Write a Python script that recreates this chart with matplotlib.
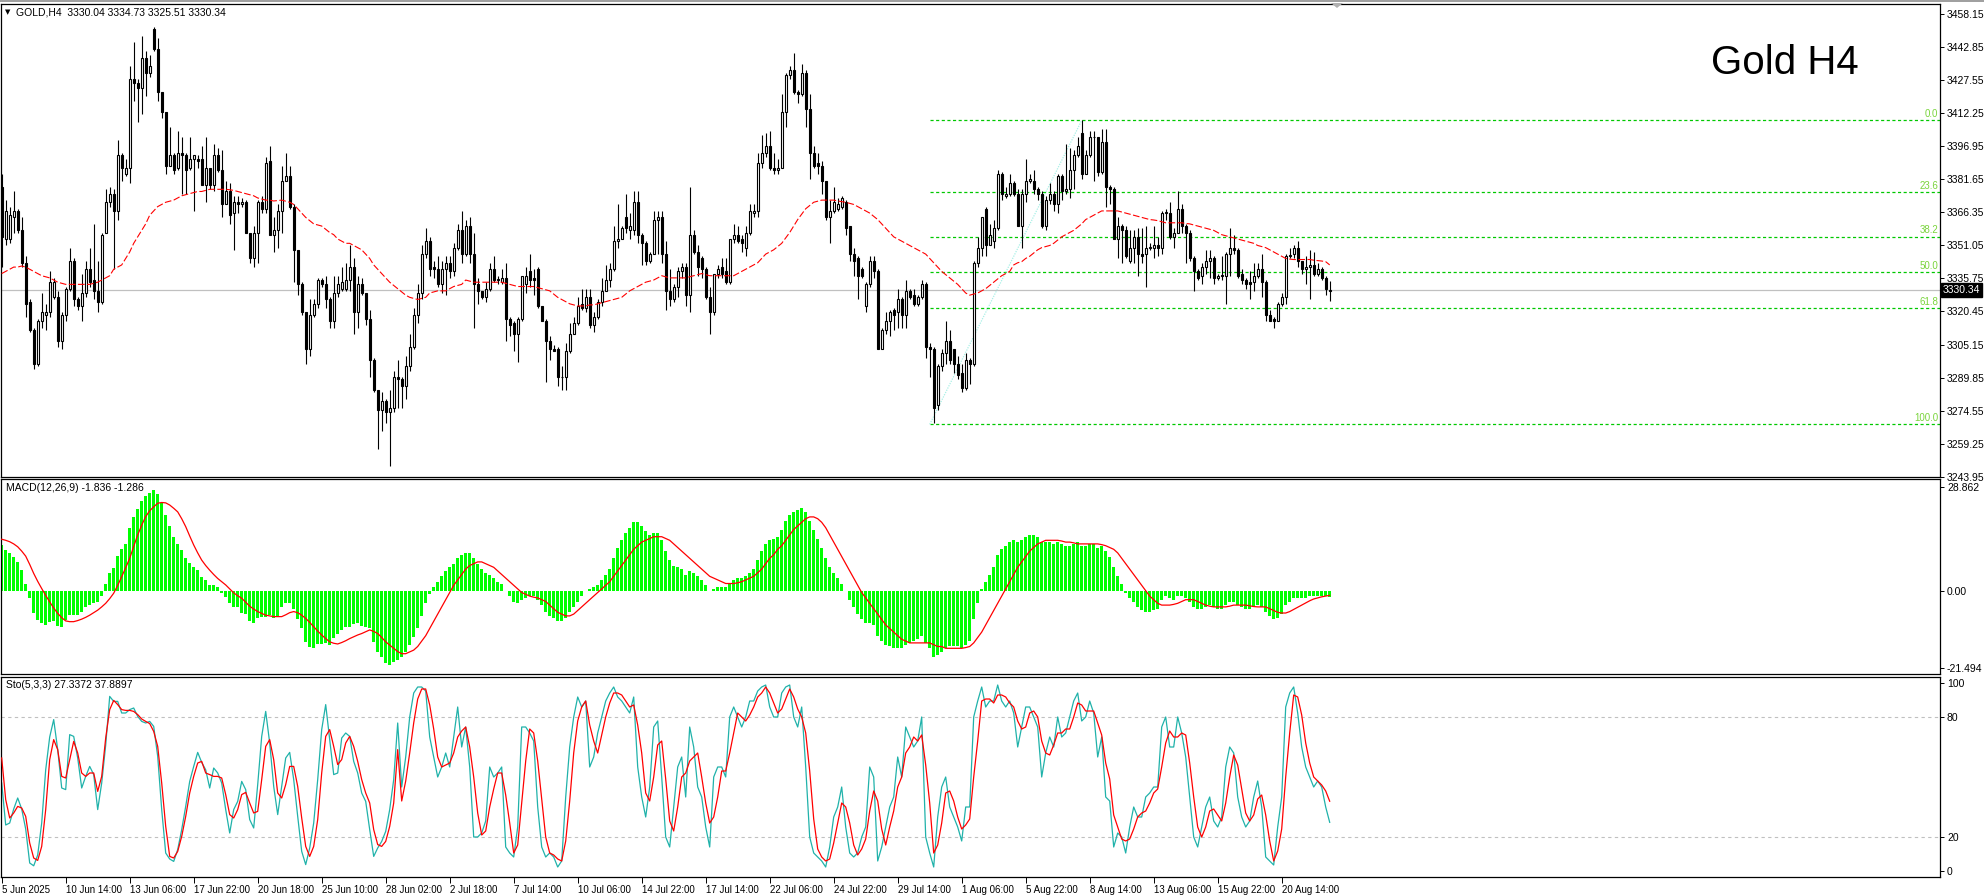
import matplotlib
matplotlib.use('Agg')
import matplotlib.pyplot as plt
import matplotlib.transforms as mtransforms
from matplotlib.patches import Polygon, Rectangle
import numpy as np

plt.rcParams['font.family'] = ['Liberation Sans', 'DejaVu Sans']

# ---- data (GOLD, H4) ----
opens = [
    3378, 3354, 3354, 3364, 3367, 3358, 3343, 3325, 3312, 3296,
    3316, 3319, 3320, 3327, 3327, 3307, 3319, 3331, 3344, 3326,
    3323, 3329, 3340, 3335, 3330, 3325, 3357, 3371, 3375, 3367,
    3393, 3384, 3387, 3428, 3426, 3424, 3438, 3431, 3451, 3442,
    3422, 3413, 3388, 3393, 3387, 3394, 3393, 3387, 3391, 3391,
    3391, 3379, 3387, 3379, 3393, 3386, 3370, 3376, 3366, 3371,
    3370, 3371, 3357, 3345, 3357, 3371, 3368, 3390, 3356, 3358,
    3367, 3381, 3383, 3369, 3349, 3333, 3320, 3303, 3319, 3324,
    3335, 3333, 3326, 3316, 3329, 3331, 3331, 3335, 3341, 3320,
    3333, 3329, 3317, 3298, 3284, 3275, 3279, 3274, 3276, 3290,
    3289, 3286, 3295, 3304, 3319, 3329, 3347, 3353, 3341, 3340,
    3333, 3340, 3343, 3339, 3350, 3358, 3347, 3360, 3347, 3333,
    3330, 3327, 3331, 3340, 3335, 3334, 3336, 3317, 3315, 3310,
    3317, 3333, 3339, 3336, 3340, 3323, 3316, 3307, 3303, 3303,
    3290, 3290, 3302, 3310, 3315, 3324, 3322, 3327, 3314, 3318,
    3325, 3330, 3335, 3340, 3353, 3354, 3364, 3358, 3358, 3371,
    3356, 3352, 3344, 3347, 3363, 3364, 3347, 3330, 3326, 3332,
    3339, 3341, 3328, 3356, 3348, 3345, 3340, 3327, 3320, 3338,
    3341, 3339, 3334, 3354, 3356, 3354, 3350, 3357, 3366, 3367,
    3389, 3394, 3397, 3387, 3386, 3387, 3413, 3430, 3432, 3422,
    3421, 3431, 3414, 3394, 3389, 3388, 3381, 3364, 3367, 3368,
    3369, 3371, 3360, 3347, 3345, 3340, 3323, 3333, 3344, 3339,
    3303, 3312, 3316, 3321, 3320, 3326, 3319, 3330, 3328, 3324,
    3327, 3333, 3304, 3303, 3277, 3295, 3301, 3307, 3303, 3296,
    3292, 3285, 3298, 3296, 3343, 3350, 3368, 3351, 3353, 3359,
    3384, 3374, 3375, 3380, 3375, 3360, 3375, 3381, 3381, 3377,
    3375, 3360, 3372, 3375, 3370, 3383, 3376, 3377, 3386, 3393,
    3403, 3384, 3393, 3401, 3401, 3385, 3399, 3378, 3377, 3354,
    3360, 3358, 3344, 3350, 3355, 3347, 3347, 3350, 3350, 3351,
    3350, 3366, 3366, 3355, 3357, 3368, 3360, 3357, 3345, 3339,
    3337, 3341, 3344, 3345, 3336, 3337, 3337, 3347, 3350, 3349,
    3338, 3335, 3334, 3334, 3337, 3340, 3334, 3319, 3317, 3316,
    3324, 3327, 3346, 3347, 3350, 3344, 3340, 3341, 3342, 3338,
    3340, 3336, 3330.04]
highs = [
    3384, 3372, 3369, 3376, 3368, 3364, 3346, 3326, 3313, 3317,
    3329, 3324, 3339, 3336, 3330, 3320, 3332, 3350, 3345, 3327,
    3338, 3344, 3350, 3361, 3344, 3357, 3377, 3378, 3377, 3400,
    3394, 3391, 3434, 3445, 3428, 3448, 3441, 3439, 3452, 3447,
    3422, 3413, 3406, 3394, 3404, 3401, 3394, 3401, 3393, 3393,
    3397, 3401, 3387, 3398, 3396, 3395, 3381, 3380, 3374, 3374,
    3373, 3372, 3357, 3360, 3372, 3374, 3392, 3397, 3364, 3370,
    3388, 3394, 3388, 3370, 3349, 3334, 3320, 3326, 3326, 3336,
    3336, 3337, 3327, 3337, 3337, 3341, 3343, 3351, 3345, 3337,
    3336, 3329, 3321, 3299, 3284, 3283, 3280, 3284, 3293, 3298,
    3290, 3300, 3310, 3322, 3333, 3351, 3359, 3355, 3344, 3346,
    3344, 3346, 3346, 3352, 3361, 3367, 3363, 3364, 3357, 3336,
    3330, 3334, 3343, 3346, 3337, 3340, 3343, 3318, 3316, 3318,
    3337, 3341, 3347, 3340, 3341, 3323, 3317, 3309, 3305, 3304,
    3295, 3306, 3315, 3318, 3327, 3331, 3331, 3331, 3320, 3326,
    3336, 3342, 3343, 3360, 3370, 3360, 3375, 3366, 3376, 3376,
    3357, 3353, 3348, 3367, 3367, 3367, 3353, 3340, 3333, 3341,
    3343, 3343, 3378, 3358, 3351, 3346, 3341, 3332, 3338, 3342,
    3345, 3345, 3354, 3361, 3360, 3356, 3360, 3370, 3370, 3394,
    3402, 3403, 3404, 3394, 3391, 3421, 3431, 3434, 3440, 3423,
    3435, 3432, 3421, 3397, 3394, 3390, 3381, 3372, 3378, 3373,
    3374, 3372, 3360, 3350, 3346, 3341, 3334, 3346, 3346, 3340,
    3313, 3320, 3321, 3322, 3331, 3327, 3335, 3331, 3331, 3328,
    3335, 3334, 3306, 3304, 3296, 3303, 3316, 3312, 3303, 3300,
    3296, 3301, 3299, 3344, 3355, 3364, 3369, 3361, 3363, 3386,
    3385, 3378, 3384, 3381, 3377, 3377, 3391, 3384, 3386, 3378,
    3376, 3374, 3380, 3376, 3384, 3384, 3398, 3396, 3395, 3401,
    3409, 3395, 3404, 3404, 3401, 3405, 3405, 3379, 3378, 3364,
    3361, 3360, 3358, 3358, 3359, 3359, 3360, 3352, 3360, 3355,
    3367, 3368, 3371, 3359, 3376, 3370, 3361, 3358, 3346, 3340,
    3343, 3349, 3349, 3346, 3338, 3346, 3348, 3359, 3356, 3350,
    3340, 3336, 3339, 3343, 3343, 3347, 3335, 3321, 3318, 3325,
    3329, 3347, 3350, 3351, 3353, 3344, 3346, 3349, 3348, 3343,
    3341, 3337, 3334.73]
lows = [
    3341, 3351, 3352, 3357, 3357, 3341, 3318, 3311, 3294, 3295,
    3313, 3312, 3318, 3326, 3304, 3303, 3316, 3330, 3323, 3321,
    3316, 3327, 3332, 3326, 3320, 3324, 3357, 3369, 3340, 3363,
    3381, 3383, 3380, 3418, 3408, 3412, 3420, 3429, 3441, 3418,
    3410, 3384, 3388, 3384, 3386, 3375, 3375, 3386, 3367, 3387,
    3379, 3371, 3377, 3376, 3385, 3364, 3370, 3361, 3349, 3366,
    3369, 3357, 3343, 3341, 3343, 3366, 3366, 3356, 3348, 3350,
    3357, 3381, 3368, 3334, 3328, 3319, 3296, 3300, 3318, 3322,
    3332, 3322, 3313, 3313, 3327, 3330, 3330, 3330, 3310, 3313,
    3328, 3314, 3290, 3283, 3257, 3265, 3269, 3249, 3274, 3276,
    3276, 3280, 3293, 3303, 3315, 3326, 3345, 3337, 3336, 3332,
    3329, 3328, 3336, 3337, 3349, 3343, 3346, 3343, 3313, 3324,
    3326, 3325, 3330, 3334, 3333, 3333, 3307, 3309, 3302, 3297,
    3316, 3329, 3332, 3328, 3322, 3316, 3288, 3298, 3302, 3286,
    3284, 3284, 3301, 3310, 3314, 3321, 3320, 3313, 3311, 3317,
    3323, 3330, 3332, 3339, 3350, 3354, 3357, 3354, 3356, 3352,
    3342, 3342, 3343, 3347, 3347, 3343, 3321, 3323, 3325, 3327,
    3336, 3323, 3320, 3347, 3337, 3336, 3326, 3310, 3319, 3336,
    3336, 3333, 3333, 3352, 3352, 3348, 3346, 3356, 3364, 3364,
    3387, 3392, 3386, 3384, 3384, 3387, 3406, 3428, 3421, 3417,
    3420, 3406, 3382, 3387, 3384, 3375, 3363, 3352, 3366, 3367,
    3368, 3356, 3344, 3337, 3326, 3336, 3320, 3332, 3336, 3303,
    3303, 3310, 3309, 3312, 3313, 3313, 3313, 3326, 3323, 3323,
    3326, 3299, 3290, 3269, 3275, 3293, 3296, 3296, 3292, 3289,
    3283, 3284, 3287, 3295, 3341, 3346, 3346, 3351, 3350, 3358,
    3372, 3373, 3374, 3374, 3360, 3350, 3371, 3380, 3375, 3372,
    3359, 3358, 3370, 3367, 3366, 3372, 3375, 3373, 3377, 3392,
    3382, 3384, 3392, 3381, 3383, 3384, 3369, 3370, 3354, 3345,
    3343, 3345, 3343, 3343, 3337, 3343, 3332, 3349, 3345, 3346,
    3347, 3363, 3354, 3350, 3357, 3357, 3343, 3344, 3330, 3335,
    3333, 3338, 3336, 3333, 3335, 3335, 3324, 3337, 3347, 3336,
    3333, 3331, 3326, 3330, 3336, 3327, 3316, 3316, 3313, 3316,
    3323, 3324, 3345, 3345, 3341, 3338, 3333, 3326, 3337, 3337,
    3335, 3328, 3325.51]
closes = [
    3355, 3367, 3365, 3367, 3358, 3343, 3324, 3312, 3296, 3316,
    3320, 3320, 3334, 3334, 3307, 3319, 3331, 3344, 3326, 3323,
    3329, 3340, 3334, 3330, 3325, 3356, 3371, 3375, 3367, 3393,
    3387, 3387, 3428, 3426, 3424, 3438, 3431, 3434, 3442, 3422,
    3413, 3388, 3393, 3386, 3394, 3393, 3386, 3391, 3393, 3390,
    3379, 3387, 3379, 3393, 3386, 3370, 3376, 3365, 3371, 3370,
    3371, 3357, 3345, 3357, 3371, 3368, 3389, 3356, 3358, 3367,
    3381, 3383, 3369, 3349, 3333, 3320, 3303, 3319, 3324, 3335,
    3333, 3326, 3316, 3329, 3333, 3334, 3335, 3341, 3320, 3333,
    3329, 3317, 3298, 3284, 3275, 3279, 3274, 3276, 3290, 3289,
    3286, 3295, 3304, 3319, 3329, 3347, 3353, 3340, 3340, 3333,
    3340, 3343, 3339, 3350, 3358, 3347, 3360, 3347, 3333, 3330,
    3327, 3331, 3340, 3335, 3335.5, 3336, 3317, 3314, 3310, 3317,
    3337, 3337, 3335, 3335, 3323, 3316, 3307, 3303, 3302, 3290,
    3290, 3302, 3310, 3315, 3323, 3322, 3327, 3314, 3318, 3325,
    3330, 3335, 3340, 3353, 3354, 3359, 3359, 3360, 3371, 3356,
    3352, 3344, 3347, 3363, 3364, 3347, 3330, 3326, 3332, 3339,
    3341, 3328, 3356, 3348, 3341, 3340, 3327, 3320, 3338, 3340,
    3338, 3334, 3354, 3356, 3353, 3352, 3357, 3367, 3367, 3389,
    3394, 3397, 3387, 3386, 3387, 3413, 3430, 3432, 3422, 3421,
    3431, 3414, 3394, 3388, 3388, 3381, 3364, 3367, 3371, 3370,
    3373, 3359, 3347, 3344, 3337, 3337, 3333, 3344, 3339, 3303,
    3312, 3316, 3320, 3319, 3326, 3319, 3330, 3327, 3324, 3327,
    3333, 3304, 3303, 3276, 3295, 3301, 3307, 3298, 3296, 3291,
    3285, 3298, 3296, 3343, 3350, 3364, 3351, 3356, 3359, 3384,
    3375, 3375, 3380, 3375, 3360, 3375, 3381, 3382, 3377, 3375,
    3360, 3372, 3375, 3370, 3383, 3376, 3377, 3386, 3393, 3397,
    3384, 3393, 3401, 3401, 3385, 3399, 3378, 3377, 3354, 3360,
    3358, 3346, 3350, 3355, 3347, 3346, 3350, 3350.5, 3351, 3350,
    3366, 3366.5, 3355, 3357, 3368, 3360, 3357, 3345, 3339, 3336,
    3341, 3344, 3345, 3336, 3337, 3337.5, 3347, 3350, 3349, 3337,
    3335, 3333, 3333, 3337, 3340, 3334, 3319, 3316, 3316, 3324,
    3327, 3346, 3346.5, 3350, 3344, 3340, 3341, 3342, 3338, 3340,
    3336, 3331, 3330.34]

# red dashed moving average
ma_line = [
    3338, 3339, 3340, 3341, 3341, 3341.5, 3341, 3340, 3339, 3338,
    3337, 3336.5, 3336, 3335, 3334, 3333.5, 3333, 3333, 3333, 3333,
    3333, 3333, 3333, 3333.5, 3334, 3335, 3336, 3337, 3340, 3341,
    3342, 3345, 3348, 3352, 3355, 3358, 3361, 3365, 3367, 3369,
    3370, 3371, 3371.5, 3372, 3373, 3374, 3374.5, 3375, 3375.5, 3376,
    3376, 3376.5, 3377, 3377, 3377, 3377, 3377, 3376.8, 3376.5, 3376,
    3375.5, 3375, 3374.5, 3374, 3373, 3372.5, 3372, 3372, 3371.6, 3371.8,
    3372, 3371.5, 3371, 3370, 3368, 3366, 3364, 3362.5, 3361, 3360.5,
    3360, 3358.5, 3357, 3356, 3354, 3353, 3352, 3352, 3351, 3350,
    3349, 3347, 3345, 3342, 3340, 3338, 3336, 3334, 3332.5, 3331,
    3329.5, 3328, 3327, 3326.5, 3326, 3326.5, 3327, 3329, 3329.5, 3330,
    3330, 3330, 3331, 3332, 3332.5, 3333, 3335, 3334.5, 3334, 3334,
    3334, 3334, 3334, 3334, 3334, 3334, 3333.5, 3333, 3332.5, 3332,
    3332, 3332, 3332, 3332, 3331.5, 3331, 3330.5, 3330, 3328.5, 3327,
    3326, 3325, 3324, 3323.5, 3323, 3323, 3323, 3323.5, 3323.5, 3324,
    3324.5, 3325, 3325.5, 3326, 3326.5, 3327, 3328.5, 3330, 3331, 3332,
    3333, 3334, 3334.5, 3335, 3336, 3337, 3336.5, 3336, 3336, 3336,
    3336, 3336, 3336.5, 3337, 3337.5, 3338, 3337.5, 3337, 3337, 3337,
    3337, 3337, 3337, 3337, 3338, 3339, 3340, 3341, 3342, 3343,
    3345, 3347, 3348, 3349, 3350.5, 3352, 3354.5, 3357, 3360, 3363,
    3365.5, 3368, 3369.5, 3371, 3371.5, 3372, 3372, 3372, 3372, 3371.6,
    3371.3, 3371, 3370.5, 3370, 3369, 3368, 3367, 3366, 3364.5, 3363,
    3361, 3359, 3357, 3355, 3354, 3353, 3352, 3351, 3350, 3349,
    3348, 3347, 3345, 3343, 3341, 3339, 3337.5, 3336, 3334.5, 3333,
    3331, 3329, 3328, 3328.5, 3329, 3330, 3331, 3332.5, 3334, 3335.5,
    3337, 3338, 3339, 3342, 3343, 3343.5, 3345, 3346, 3347.5, 3349,
    3350, 3350.5, 3351, 3352, 3353.5, 3355, 3356, 3357, 3358, 3359.5,
    3361, 3363, 3364, 3365, 3366, 3367, 3367, 3367, 3367, 3367,
    3366.5, 3366, 3365.5, 3365, 3364.5, 3364, 3363.5, 3363, 3362.8, 3362.5,
    3362, 3361.5, 3361.5, 3361.5, 3361.5, 3361.5, 3361.2, 3361, 3360.5, 3360,
    3359.5, 3359, 3358.5, 3358, 3357, 3356, 3355.5, 3355, 3354.5, 3354,
    3353.5, 3353, 3352.5, 3352, 3351, 3350.5, 3350, 3349, 3348, 3347,
    3346, 3345, 3344.7, 3344.5, 3344.5, 3344.5, 3344.5, 3344.5, 3344.2, 3344,
    3343.8, 3343.5, 3342]

# MACD(12,26,9): main as histogram, signal as line
macd_main = [
    12.7, 11.3, 10.4, 9.4, 8.1, 5.7, 2.0, -1.9, -6.1, -8.1,
    -9.1, -9.5, -8.6, -8.3, -9.8, -10.0, -8.1, -6.8, -6.8, -6.8,
    -5.8, -4.4, -4.0, -3.5, -3.1, -1.5, 2.0, 4.8, 6.2, 9.6,
    11.5, 13.0, 17.3, 20.6, 22.6, 25.0, 26.3, 27.2, 28.1, 26.9,
    24.3, 21.0, 18.0, 15.0, 13.1, 11.3, 9.0, 7.6, 6.7, 5.7,
    3.9, 3.1, 1.6, 1.6, 1.1, -0.7, -1.7, -3.5, -4.4, -4.6,
    -6.1, -6.5, -8.3, -8.9, -7.7, -7.2, -7.2, -6.8, -7.7, -7.2,
    -4.4, -3.3, -3.5, -5.2, -8.0, -10.5, -14.2, -15.6, -16.0, -14.8,
    -14.8, -14.6, -15.1, -13.2, -12.0, -10.9, -10.0, -10.0, -9.3, -9.1,
    -9.8, -10.0, -10.5, -14.2, -16.9, -18.3, -20.0, -20.6, -19.7, -19.3,
    -18.5, -17, -15, -13, -10.5, -7, -3.5, -1, 1, 2.5,
    4, 5.5, 6.5, 7.5, 9, 10, 10.5, 10.5, 9, 7.5,
    6, 5, 4.5, 3.5, 2.5, 2, 0, -1.5, -3, -3.5,
    -2.5, -2, -1.5, -1.5, -2.5, -4, -6, -7, -7.5, -8.5,
    -8.5, -7.5, -6, -4.5, -3, -1.5, 0, 0.5, 1, 1.5,
    3, 4.5, 6, 9, 12, 14, 16, 17.5, 19, 19,
    18, 16.5, 15.5, 16, 16, 14, 11, 8.5, 7, 6.5,
    6, 4.5, 5.5, 5, 4, 3, 1.5, 0, 0.5, 1,
    1, 1, 2, 3, 3.5, 3.5, 4, 5, 6, 8.5,
    11, 13, 14, 14.5, 15, 17, 19.5, 21, 22, 22.5,
    23, 22, 19.5, 17, 14.5, 12, 9, 6.5, 5, 3.5,
    2, 0, -2.5, -4.5, -6.5, -8, -9, -9, -9.5, -12.5,
    -14, -15, -15.5, -16, -16, -16, -15, -14.5, -14, -13.5,
    -12.5, -14.5, -16, -18.5, -18, -17, -16, -15.5, -15.5, -15.5,
    -16, -15, -14, -8, -3.5, 0.5, 2.5, 4.5, 6.5, 10,
    11.5, 12.5, 13.5, 14, 13.5, 14, 15, 15.5, 15.5, 15,
    13.5, 13.5, 13.5, 13, 13.5, 13, 12.5, 12.5, 13, 13.5,
    12.5, 12.5, 13, 13, 12, 12.5, 11, 9.5, 6.5, 4,
    2, -0.5, -2, -3, -4.5, -5.5, -6, -6, -5.5, -5,
    -2.5, -1.5, -2, -2.5, -1.5, -1.5, -2, -3, -4.5, -5,
    -5, -4.5, -4, -4.5, -5, -5, -4, -3, -3, -4,
    -4.5, -5, -5, -4.5, -4, -4.5, -6, -7, -8, -7.5,
    -6.5, -4, -3, -2, -2, -2, -2, -1.5, -1.5, -1.5,
    -1.5, -1.5, -1.836]
macd_signal = [
    14.3, 14.0, 13.6, 13.0, 12.2, 11.0, 9.6, 7.3, 4.8, 2.6,
    0.6, -1.3, -3.1, -4.8, -6.3, -7.5, -8.4, -8.6, -8.6, -8.3,
    -7.9, -7.4, -6.8, -6.1, -5.4, -4.5, -3.5, -2.2, -0.7, 1.5,
    3.9, 6.4, 9.0, 12.3, 15.5, 18.2, 20.6, 22.2, 23.3, 24.3,
    24.5, 24.4, 23.8, 22.9, 21.9, 20.0, 17.8, 15.2, 12.7, 10.5,
    8.5, 7.0, 5.7, 4.5, 3.4, 2.5, 1.6, 0.5, -0.6, -1.4,
    -2.1, -3.2, -4.3, -5.1, -5.8, -6.3, -6.8, -7.0, -7.2, -7.2,
    -7.2, -6.7, -6.1, -5.8, -6.1, -6.8, -7.7, -8.8, -10.0, -11.2,
    -12.3, -13.3, -14.2, -14.6, -14.8, -14.4, -13.9, -13.3, -12.8, -12.3,
    -11.9, -11.4, -10.9, -11.3, -11.9, -13.0, -14.2, -15.1, -16.0, -16.9,
    -17.5, -17.5, -17, -16.5, -15.5, -14, -12.5, -10.5, -8.5, -6.5,
    -4.5, -2.5, -0.5, 1.5, 3, 4.5, 6, 7, 7.5, 8,
    8, 7.5, 7, 6.5, 5.5, 4.5, 3.5, 2.5, 1.5, 0.5,
    -0.5, -1, -1.5, -1.8, -2, -2.5, -3, -4, -5, -6,
    -6.5, -7, -7, -6.5, -5.5, -4.5, -3.5, -2.5, -1.5, -0.5,
    0.5, 1.5, 2.5, 4, 5.5, 7, 8.5, 10, 11.5, 12.5,
    13.5, 14, 14.5, 15, 15, 15, 14.5, 14, 13, 12,
    11, 10, 9, 8, 7, 6, 5, 4, 3.5, 3,
    2.5, 2, 2, 2, 2.2, 2.5, 3, 3.5, 4, 5,
    6, 7.5, 9, 10, 11.5, 12.5, 14, 15.5, 17, 18,
    19, 20, 20.5, 20.5, 20, 19, 17.5, 15.5, 13.5, 11.5,
    9.5, 7.5, 5.5, 3.5, 1.5, -0.5, -2, -3.5, -5, -6.5,
    -8, -9.5, -10.5, -11.5, -12.5, -13.5, -14, -14.5, -14.5, -14.5,
    -14.5, -14.5, -14.5, -15, -15.5, -15.5, -16, -16, -16, -16,
    -16, -15.8, -15.5, -14.5, -13, -11.5, -9.5, -7.5, -5.5, -3.5,
    -1.5, 0.5, 2.5, 4.5, 6.5, 8, 9.5, 11, 12, 13,
    13.5, 14, 14, 14, 14, 13.8, 13.5, 13.5, 13.3, 13,
    13, 13, 13, 13, 13, 12.8, 12.5, 12, 11.5, 10.5,
    9, 7.5, 6, 4.5, 3, 1.5, 0, -1.5, -2.5, -3.5,
    -4, -4, -4, -3.8, -3.5, -3, -2.5, -2.5, -2.5, -3,
    -3.5, -4, -4.3, -4.5, -4.5, -4.5, -4.5, -4.3, -4, -4,
    -4, -4, -4.2, -4.4, -4.5, -4.5, -4.5, -5, -5.5, -6,
    -6.2, -6.2, -5.8, -5.2, -4.6, -4, -3.4, -2.8, -2.3, -2,
    -1.7, -1.5, -1.286]

# Stochastic(5,3,3): %K (teal) and %D (red)
sto_k = [
    47, 26, 27, 34, 39.5, 34, 24, 7, 5.6, 11,
    27, 53.6, 70, 78.7, 63.7, 44.5, 43.7, 71.2, 70.3, 59.5,
    44.5, 50.3, 55.3, 51.2, 33.7, 47, 66, 90.3, 87.8, 87.8,
    82, 82, 83.7, 84.5, 80.3, 77.8, 77, 77.8, 75.3, 60.3,
    33.7, 12, 9, 7.8, 13.7, 23.7, 35.3, 47.8, 55.3, 62.3,
    57.3, 53.6, 44.5, 54.5, 52, 47, 33.7, 22, 33.7, 37.8,
    47.8, 43.7, 28.7, 24.5, 46.2, 70.3, 82.8, 67, 45.3, 31.2,
    45.3, 59.5, 62.3, 48.7, 30.3, 12.8, 6.2, 14.5, 27, 48.7,
    73.7, 86.2, 68.7, 51.2, 52, 69.5, 72, 70.3, 57.8, 52,
    42, 37.8, 23.7, 10.3, 14.5, 17.8, 22.8, 33.7, 48.7, 77,
    45, 60, 80, 92, 95, 95, 93, 70, 60, 50,
    55, 62, 55, 70, 85, 65, 75, 55, 20, 20,
    22, 28, 55, 50, 52, 55, 15, 12, 10, 25,
    75, 75, 72, 68, 35, 15, 10, 12, 10, 5,
    8, 40, 65, 80, 90, 85, 88, 55, 60, 72,
    80, 88, 92, 95, 90, 88, 85, 82, 90, 55,
    40, 30, 45, 75, 78, 50, 20, 15, 35, 55,
    60, 40, 75, 65, 45, 40, 25, 15, 50, 55,
    55, 50, 80, 85, 80, 75, 80, 88, 88, 93,
    95, 96, 85, 80, 80, 92, 95, 96, 80, 75,
    85, 55, 20, 12, 10, 8, 5, 15, 30, 35,
    45, 25, 12, 10, 12, 20, 25, 55, 50, 8,
    15, 25, 35, 40, 60, 50, 75, 70, 65, 68,
    80, 20, 12, 5, 30, 45, 50, 35, 30, 25,
    18, 35, 35, 80, 88, 95, 85, 88, 88, 96,
    88, 85, 88, 82, 65, 75, 85, 85, 80, 75,
    50, 62, 70, 65, 80, 70, 72, 80, 88, 92,
    78, 80, 88, 82, 60, 70, 40, 38, 15, 22,
    20, 12, 25, 35, 30, 30, 40, 42, 45, 45,
    75, 80, 65, 65, 80, 72, 60, 40, 20, 15,
    25, 35, 40, 28, 25, 30, 55, 65, 62, 40,
    30, 25, 28, 40, 48, 35, 10, 8, 6, 25,
    40, 85, 92, 95, 82, 65, 55, 50, 45, 48,
    45, 35, 27.3372]
sto_d = [
    59.5, 38.7, 29.5, 32, 35.3, 34.5, 30.3, 17, 9.5, 8.3,
    15.3, 33.7, 58.7, 68.7, 63.7, 50.3, 49.5, 58.7, 67.8, 62,
    52, 50.3, 52, 52, 42.8, 50.3, 69.5, 83.7, 88.3, 86.2,
    83.7, 83.3, 83.3, 82.8, 81.2, 79, 77.8, 76.7, 72.8, 65.3,
    47, 25.3, 10.3, 9.5, 12.8, 20.3, 30.3, 42, 50.3, 57,
    57.8, 52, 51.2, 50.3, 50.3, 49.5, 41.2, 31.2, 29.5, 33.7,
    41.2, 42.3, 37, 32, 32.8, 48.7, 65.3, 68.7, 58.7, 42,
    39.5, 46.2, 55.3, 55.3, 45.3, 29.5, 15.3, 10.3, 15.3, 28.7,
    52, 70.3, 73.7, 65.3, 56.2, 58.7, 67, 70.3, 65.3, 57.8,
    48.7, 42, 37, 23.7, 16.2, 15.3, 17.8, 25.3, 37, 63.7,
    38, 48, 62, 77, 89, 94, 94, 86, 74, 60,
    55, 56, 57, 62, 70, 73, 75, 65, 50, 32,
    21, 23, 35, 44, 52, 52, 41, 27, 12, 16,
    37, 58, 74, 72, 58, 39, 20, 12, 11, 9,
    8, 18, 38, 62, 78, 85, 88, 76, 68, 62,
    71, 80, 87, 92, 92, 91, 88, 85, 86, 76,
    62, 42, 38, 50, 66, 68, 49, 28, 23, 35,
    50, 52, 58, 60, 62, 50, 37, 27, 30, 40,
    53, 53, 62, 72, 82, 80, 78, 81, 85, 90,
    92, 95, 92, 87, 82, 84, 89, 94, 90, 84,
    80, 72, 53, 29, 14, 10, 8, 9, 17, 27,
    37, 35, 27, 16, 11, 14, 19, 33, 43, 38,
    24, 16, 25, 33, 45, 50, 62, 65, 70, 68,
    71, 56, 37, 12, 16, 27, 42, 43, 38, 30,
    24, 26, 29, 50, 68, 88, 89, 89, 87, 91,
    91, 90, 87, 85, 78, 74, 75, 82, 83, 80,
    68, 62, 61, 66, 72, 72, 74, 74, 80, 87,
    86, 83, 83, 83, 77, 71, 57, 49, 31, 25,
    19, 18, 19, 24, 30, 32, 33, 37, 42, 44,
    55, 67, 73, 70, 70, 72, 71, 57, 40, 25,
    20, 25, 33, 34, 31, 28, 37, 50, 61, 56,
    44, 32, 28, 31, 39, 41, 31, 18, 8, 13,
    24, 50, 72, 91, 90, 81, 67, 57, 50, 48,
    46, 43, 37.8897]

# Fibonacci retracement anchors (bar index, price) and levels
fib_bars = [232, 270]
fib_low, fib_high = 3268.2, 3408.9
fib_levels = [0.0, 23.6, 38.2, 50.0, 61.8, 100.0]

last_price = 3330.34
price_ticks = [3458.15, 3442.85, 3427.55, 3412.25, 3396.95, 3381.65, 3366.35,
               3351.05, 3335.75, 3320.45, 3305.15, 3289.85, 3274.55, 3259.25, 3243.95]
date_labels = ["5 Jun 2025", "10 Jun 14:00", "13 Jun 06:00", "17 Jun 22:00", "20 Jun 18:00",
               "25 Jun 10:00", "28 Jun 02:00", "2 Jul 18:00", "7 Jul 14:00", "10 Jul 06:00",
               "14 Jul 22:00", "17 Jul 14:00", "22 Jul 06:00", "24 Jul 22:00", "29 Jul 14:00",
               "1 Aug 06:00", "5 Aug 22:00", "8 Aug 14:00", "13 Aug 06:00", "15 Aug 22:00",
               "20 Aug 14:00"]
date_step = 16


def make_axes(fig, x0, y0, x1, y1, W, H):
    return fig.add_axes([x0 / W, 1 - y1 / H, (x1 - x0) / W, (y1 - y0) / H])


def style_panel(ax):
    for s in ax.spines.values():
        s.set_color('black')
        s.set_linewidth(0.9)
    ax.yaxis.tick_right()
    ax.tick_params(axis='y', direction='out', length=3, width=0.7, pad=2,
                   labelsize=7.5, colors='black')
    ax.set_xticks([])
    ax.set_xlim(-0.175, 484.575)
    ax.set_facecolor('white')


def plot_chart():
    W, H = 1984, 896
    fig = plt.figure(figsize=(W / 100, H / 100), dpi=100)

    n = min(len(opens), len(highs), len(lows), len(closes))
    o = np.array(opens[:n], float)
    h = np.array(highs[:n], float)
    l = np.array(lows[:n], float)
    c = np.array(closes[:n], float)
    x = np.arange(n)

    # window frame at the very top
    fig.patches.append(Rectangle((0, 1 - 2.5 / H), 1, 2.5 / H, transform=fig.transFigure,
                                 facecolor='#a0a0a0', edgecolor='none'))

    # ---- price panel ----
    ax = make_axes(fig, 1, 4, 1940, 477, W, H)
    style_panel(ax)
    ax.set_ylim(3243.83, 3462.78)
    ax.set_yticks(price_ticks)
    ax.set_yticklabels([f'{v:.2f}' for v in price_ticks])

    ax.axhline(last_price, color='#c0c0c0', lw=0.9, zorder=1)

    rng = fib_high - fib_low
    blend = mtransforms.blended_transform_factory(ax.transAxes, ax.transData)
    for lev in fib_levels:
        y = fib_high - rng * lev / 100.0
        ax.hlines(y, fib_bars[0], 484.575, color='#00c800', lw=0.9,
                  linestyles=(0, (2.5, 2)), zorder=1)
        ax.text(0.999, y + 0.6, f'{lev:.1f}', transform=blend,
                ha='right', va='bottom', fontsize=7, color='#7ad43c')
    ax.plot(fib_bars, [fib_low, fib_high], color='#a8f0e6', lw=0.9, ls=(0, (1, 1)), zorder=1)

    ax.vlines(x, l, h, color='black', lw=0.8, zorder=2)
    up = c >= o
    ax.bar(x[up], (c - o)[up], bottom=o[up], width=0.5, color='white',
           edgecolor='black', linewidth=0.8, zorder=3)
    ax.bar(x[~up], (o - c)[~up], bottom=c[~up], width=0.5, color='black',
           edgecolor='black', linewidth=0.8, zorder=3)

    m = np.array(ma_line[:n], float)
    ax.plot(np.arange(len(m)), m, color='red', lw=0.8, dashes=(6, 2.2), zorder=4)

    ax.text(1.0015, last_price, f'{last_price:.2f}', transform=blend,
            ha='left', va='center', fontsize=7.5, color='white',
            bbox=dict(facecolor='black', edgecolor='black', pad=1.2))

    fig.text(16 / W, 1 - 12.7 / H, 'GOLD,H4  3330.04 3334.73 3325.51 3330.34',
             fontsize=7.5, va='center', ha='left')
    fig.text(8 / W, 1 - 12.5 / H, '\u25bc', fontsize=5, va='center', ha='center',
             family='DejaVu Sans')
    fig.text(1785 / W, 1 - 63 / H, 'Gold H4', fontsize=29, va='center', ha='center')
    fig.patches.append(Polygon([[1331 / W, 1 - 3 / H], [1343 / W, 1 - 3 / H], [1337 / W, 1 - 8 / H]],
                               closed=True, transform=fig.transFigure,
                               facecolor='#b0b0b0', edgecolor='none'))

    # ---- MACD panel ----
    am = make_axes(fig, 1, 479, 1940, 674, W, H)
    style_panel(am)
    am.set_ylim(-23.14, 31.03)
    am.bar(np.arange(len(macd_main)), macd_main, width=0.72, color='#00ff00',
           linewidth=0, zorder=2)
    am.plot(np.arange(len(macd_signal)), macd_signal, color='red', lw=0.9, zorder=3)
    am.set_yticks([28.862, 0.0, -21.494])
    am.set_yticklabels(['28.862', '0.00', '-21.494'])
    fig.text(6 / W, 1 - 488.3 / H, 'MACD(12,26,9) -1.836 -1.286', fontsize=7.5,
             va='center', ha='left')

    # ---- Stochastic panel ----
    ast = make_axes(fig, 1, 677, 1940, 877, W, H)
    style_panel(ast)
    ast.set_ylim(0, 100)
    for lvl in (20, 80):
        ast.axhline(lvl, color='#c0c0c0', lw=0.8, ls=(0, (3, 3)), zorder=1)
    ast.plot(np.arange(len(sto_k)), sto_k, color='#20b2aa', lw=0.9, zorder=2)
    ast.plot(np.arange(len(sto_d)), sto_d, color='red', lw=0.9, zorder=3)
    ast.set_yticks([97, 80, 20, 2.8])
    ast.set_yticklabels(['100', '80', '20', '0'])
    fig.text(6 / W, 1 - 685 / H, 'Sto(5,3,3) 27.3372 37.8897', fontsize=7.5,
             va='center', ha='left')

    tick_bars = [i * date_step for i in range(len(date_labels))]
    ast.set_xticks(tick_bars)
    ast.set_xticklabels(date_labels)
    ast.tick_params(axis='x', direction='out', length=4, width=0.7, pad=1.5,
                    labelsize=7, colors='black')
    for lab in ast.get_xticklabels():
        lab.set_horizontalalignment('left')

    fig.savefig('out.png', dpi=100, facecolor='white')


if __name__ == '__main__':
    plot_chart()
